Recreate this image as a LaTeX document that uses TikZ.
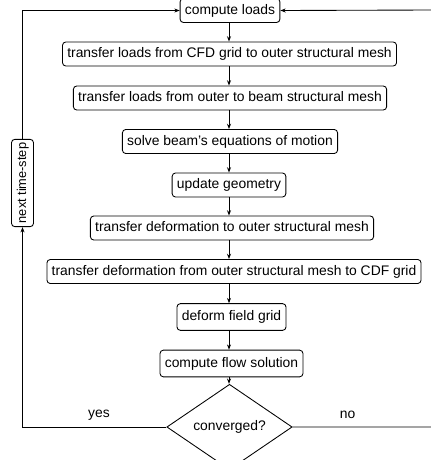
\documentclass[tikz,border=0pt]{standalone}
\usepackage{fontspec}
\setmainfont{Liberation Sans}
\usetikzlibrary{shapes.geometric,arrows.meta}
\begin{document}
\begin{tikzpicture}[x=0.75pt,y=-0.75pt,
  font=\fontsize{10.4}{12.5}\selectfont,
  line width=0.65pt,
  arr/.style={-{Stealth[length=4pt,width=3pt]}},
  stepbox/.style={draw,rounded corners=2.5pt,inner xsep=3.6pt,inner ysep=0pt,minimum height=18pt,text height=7.6pt,text depth=2.2pt},
  decbox/.style={draw,diamond,inner sep=0pt,minimum width=94pt,minimum height=48pt}
]
\useasboundingbox (0,0) rectangle (431,460);
\node[stepbox] (b1) at (230,10.5) {compute loads};
\node[stepbox] (b2) at (229.5,54) {transfer loads from CFD grid to outer structural mesh};
\node[stepbox] (b3) at (230,98) {transfer loads from outer to beam structural mesh};
\node[stepbox] (b4) at (230,141.5) {solve beam's equations of motion};
\node[stepbox] (b5) at (229,185) {update geometry};
\node[stepbox] (b6) at (232,228) {transfer deformation to outer structural mesh};
\node[stepbox] (b7) at (234,271.5) {transfer deformation from outer structural mesh to CDF grid};
\node[stepbox,minimum height=20pt] (b8) at (231.5,317) {deform field grid};
\node[stepbox,minimum height=20pt] (b9) at (231.5,363.5) {compute flow solution};
\node[decbox] (dia) at (229.5,427) {converged?};
\node[stepbox,rotate=90,font=\fontsize{9.6}{11.5}\selectfont,minimum height=16.5pt,inner xsep=2.6pt] (ts) at (22.5,183) {next time-step};
\node (yes) at (99,415) {yes};
\node (no) at (347.5,415) {no};
\coordinate (ax) at (229,0);
\coordinate (lx) at (22.5,0);
\coordinate (ne) at (434,10);
\coordinate (se) at (434,427);
\foreach \a/\b in {b1/b2,b2/b3,b3/b4,b4/b5,b5/b6,b6/b7,b7/b8,b8/b9,b9/dia}
  \draw[arr] (\a.south -| ax) -- (\b.north -| ax);
\draw[arr] (dia.west) -- (dia.west -| lx) -- (ts.west);
\draw[arr] (ts.east) -- (ts.east |- b1.west) -- (b1.west);
\draw[arr] (dia.east) -- (se) -- (ne) -- (b1.east);
\end{tikzpicture}
\end{document}
